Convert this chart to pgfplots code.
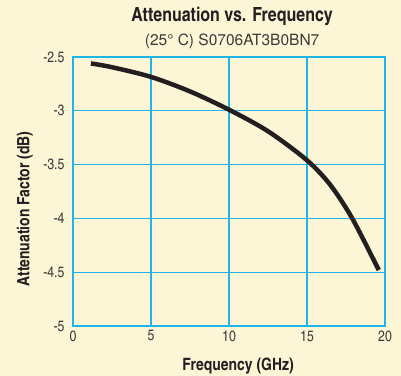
\documentclass[border=0pt]{standalone}
\usepackage{pgfplots}
\pgfplotsset{compat=1.18}
\usepackage{fontspec}
\setmainfont{texgyreheroscn-regular.otf}[BoldFont=texgyreheroscn-bold.otf]
\newfontfamily\heros{texgyreheros-regular.otf}
\definecolor{bgcol}{HTML}{FCF5D6}
\definecolor{gridcyan}{HTML}{1FB4EA}
\definecolor{curve}{HTML}{231F20}
\definecolor{ticktext}{HTML}{3A3A3A}
\begin{document}
\begin{tikzpicture}
  \path[use as bounding box, fill=bgcol] (0,0) rectangle (401bp,376bp);
  \begin{axis}[
      at={(73bp,50bp)}, anchor=south west,
      scale only axis, width=312bp, height=269bp,
      clip mode=individual,
      xmin=0, xmax=20, ymin=-5, ymax=-2.5,
      xtick={0,5,...,20}, ytick={-5,-4.5,...,-2.5},
      yticklabel style={/pgf/number format/fixed, /pgf/number format/precision=1},
      /pgf/number format/assume math mode=true,
      grid=major,
      major grid style={gridcyan, line width=1.1bp},
      axis line style={gridcyan, line width=2bp},
      major tick length=0pt,
      tick label style={font=\fontsize{15bp}{16bp}\selectfont, text=ticktext},
      xticklabel style={yshift=-1bp},
      yticklabel style={xshift=-5bp},
      xlabel={\textbf{Frequency (GHz)}},
      ylabel={\textbf{Attenuation Factor (dB)}},
      every axis x label/.style={at={(axis description cs:0.529,-0.149)}, anchor=center,
        font=\fontsize{17bp}{18bp}\selectfont, text=curve},
      every axis y label/.style={at={(axis description cs:-0.154,0.435)}, rotate=90, anchor=center,
        font=\fontsize{17bp}{18bp}\selectfont, text=curve},
      title={\textbf{Attenuation vs. Frequency}},
      title style={at={(axis description cs:0.51,1.127)}, anchor=center,
        font=\fontsize{19.5bp}{20bp}\selectfont, text=curve},
    ]
    \addplot[curve, line width=4.5bp, smooth, line cap=butt] coordinates {
      (1.15,-2.56) (2.5,-2.595) (5,-2.685) (7.5,-2.82) (10,-2.99)
      (12.5,-3.19) (15,-3.46) (16.5,-3.69) (17.9,-4.0) (19.6,-4.48)
    };
    \node[anchor=center, text=ticktext, font=\heros\fontsize{15.5bp}{17bp}\selectfont]
      at (axis description cs:0.51,1.06) {(25° C) S0706AT3B0BN7};
  \end{axis}
\end{tikzpicture}
\end{document}
